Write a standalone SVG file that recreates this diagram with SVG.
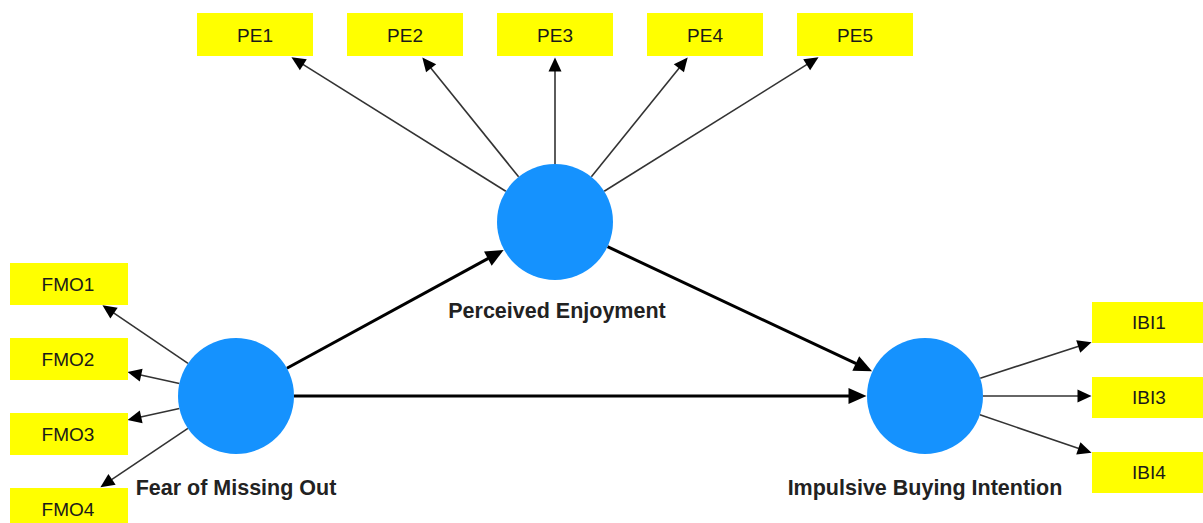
<svg xmlns="http://www.w3.org/2000/svg" width="1203" height="523" viewBox="0 0 1203 523">
<style>
.box{fill:#FFFF00}
.bt{font-family:"Liberation Sans",Arial,sans-serif;font-size:19px;fill:#1a1a1a;text-anchor:middle}
.lv{fill:#1592FE}
.lt{font-family:"Liberation Sans",Arial,sans-serif;font-size:21.5px;font-weight:bold;fill:#222;text-anchor:middle}
.ind{stroke:#333;stroke-width:1.6;fill:none;marker-end:url(#ah)}
.str{stroke:#000;stroke-width:3;fill:none;marker-end:url(#ahb)}
</style>
<defs>
<marker id="ah" markerUnits="userSpaceOnUse" markerWidth="14" markerHeight="13" refX="0.5" refY="6.5" orient="auto" overflow="visible"><path d="M0,0 L14,6.5 L0,13 z" fill="#000"/></marker>
<marker id="ahb" markerUnits="userSpaceOnUse" markerWidth="18" markerHeight="16" refX="0.5" refY="8" orient="auto" overflow="visible"><path d="M0,0 L18,8 L0,16 z" fill="#000"/></marker>
</defs>
<rect width="1203" height="523" fill="#fff"/>
<g id="connectors">
<line class="ind" x1="188.0" y1="363.4" x2="113.6" y2="312.9"/>
<line class="ind" x1="179.4" y1="383.5" x2="140.7" y2="375.0"/>
<line class="ind" x1="179.4" y1="408.5" x2="140.7" y2="417.0"/>
<line class="ind" x1="187.9" y1="428.4" x2="111.6" y2="479.7"/>
<line class="ind" x1="505.8" y1="191.3" x2="302.9" y2="64.4"/>
<line class="ind" x1="518.6" y1="176.8" x2="430.8" y2="67.9"/>
<line class="ind" x1="555" y1="164" x2="555" y2="71"/>
<line class="ind" x1="591.4" y1="176.8" x2="679.2" y2="67.9"/>
<line class="ind" x1="604.2" y1="191.3" x2="807.1" y2="64.4"/>
<line class="ind" x1="980.2" y1="378.2" x2="1078.7" y2="346.3"/>
<line class="ind" x1="983" y1="396" x2="1078" y2="396"/>
<line class="ind" x1="979.9" y1="414.7" x2="1078.8" y2="448.5"/>
<line class="str" x1="286.9" y1="368.2" x2="488.3" y2="258.4"/>
<line class="str" x1="607.5" y1="246.7" x2="856.2" y2="363.7"/>
<line class="str" x1="294" y1="396" x2="849" y2="396"/>
</g>
<g id="PE1"><rect class="box" x="197" y="13" width="116" height="43"/><text class="bt" x="255" y="42">PE1</text></g>
<g id="PE2"><rect class="box" x="347" y="13" width="116" height="43"/><text class="bt" x="405" y="42">PE2</text></g>
<g id="PE3"><rect class="box" x="497" y="13" width="116" height="43"/><text class="bt" x="555" y="42">PE3</text></g>
<g id="PE4"><rect class="box" x="647" y="13" width="116" height="43"/><text class="bt" x="705" y="42">PE4</text></g>
<g id="PE5"><rect class="box" x="797" y="13" width="116" height="43"/><text class="bt" x="855" y="42">PE5</text></g>
<g id="FMO1"><rect class="box" x="10" y="263" width="118" height="42"/><text class="bt" x="68" y="291">FMO1</text></g>
<g id="FMO2"><rect class="box" x="10" y="338" width="118" height="42"/><text class="bt" x="68" y="366">FMO2</text></g>
<g id="FMO3"><rect class="box" x="10" y="413" width="118" height="42"/><text class="bt" x="68" y="441">FMO3</text></g>
<g id="FMO4"><rect class="box" x="10" y="488" width="118" height="42"/><text class="bt" x="68" y="516">FMO4</text></g>
<g id="IBI1"><rect class="box" x="1092" y="302" width="118" height="41"/><text class="bt" x="1149" y="329">IBI1</text></g>
<g id="IBI3"><rect class="box" x="1092" y="377" width="118" height="41"/><text class="bt" x="1149" y="404">IBI3</text></g>
<g id="IBI4"><rect class="box" x="1092" y="452" width="118" height="41"/><text class="bt" x="1149" y="479">IBI4</text></g>
<g id="PerceivedEnjoyment"><circle class="lv" cx="555" cy="222" r="58"/><text class="lt" x="557" y="318">Perceived Enjoyment</text></g>
<g id="FearOfMissingOut"><circle class="lv" cx="236" cy="396" r="58"/><text class="lt" x="236" y="495">Fear of Missing Out</text></g>
<g id="ImpulsiveBuyingIntention"><circle class="lv" cx="925" cy="396" r="58"/><text class="lt" x="925" y="495">Impulsive Buying Intention</text></g>
</svg>
